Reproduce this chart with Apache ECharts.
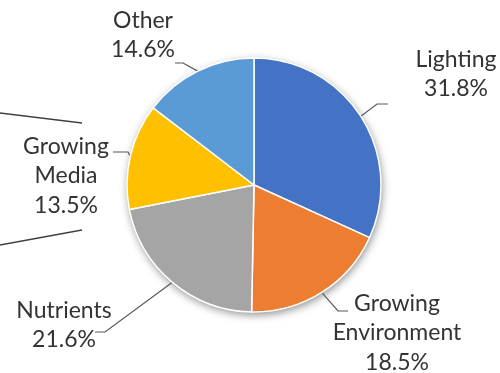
<!DOCTYPE html>
<html>
<head>
<meta charset="utf-8">
<script src="https://cdn.jsdelivr.net/npm/echarts@6/dist/echarts.min.js"></script>
<style>
  html, body { margin: 0; padding: 0; background: #ffffff; }
  #chart { width: 500px; height: 373px; }
</style>
</head>
<body>
<div id="chart"></div>
<script>
// Cost share by category (percent)
const categories = ['Lighting', 'Growing Environment', 'Nutrients', 'Growing Media', 'Other'];
const shares = [31.8, 18.5, 21.6, 13.5, 14.6];
const labelNames = ['Lighting', 'Growing\nEnvironment', 'Nutrients', 'Growing\nMedia', 'Other'];
const colors = ['#4472C4', '#ED7D31', '#A5A5A5', '#FFC000', '#5B9BD5'];

const PIE_CENTER = [254, 185];
const PIE_RADIUS = 127;

// Where each label block sits, plus the bend and end of its leader line
const labelSpots = [
  { x: 456, y: 74,  bend: [377, 104], end: [388, 104] },
  { x: 397, y: 333, bend: [338, 311], end: [348, 311] },
  { x: 64,  y: 325, bend: [105, 332], end: [95, 332] },
  { x: 66,  y: 176, bend: [128, 152], end: [113, 152] },
  { x: 143, y: 35,  bend: [183, 63],  end: [175, 63] }
];

const chart = echarts.init(document.getElementById('chart'), null, { renderer: 'canvas' });

const pieData = categories.map((name, i) => ({
  name: name,
  value: shares[i],
  itemStyle: { color: colors[i] }
}));

// Edge point of a slice at its mid angle (fallback if the layout gives no line points)
function edgePoint(idx) {
  const total = shares.reduce((a, b) => a + b, 0);
  let before = 0;
  for (let i = 0; i < idx; i++) before += shares[i];
  const frac = (before + shares[idx] / 2) / total;
  const ang = frac * Math.PI * 2;
  return [PIE_CENTER[0] + PIE_RADIUS * Math.sin(ang), PIE_CENTER[1] - PIE_RADIUS * Math.cos(ang)];
}

chart.setOption({
  animation: false,
  backgroundColor: '#ffffff',
  graphic: [
    { type: 'line', shape: { x1: 0, y1: 113, x2: 82, y2: 123 }, style: { stroke: '#404040', lineWidth: 1.3 }, silent: true },
    { type: 'line', shape: { x1: 0, y1: 245, x2: 82, y2: 230 }, style: { stroke: '#404040', lineWidth: 1.3 }, silent: true }
  ],
  series: [
    {
      // soft drop shadow under the whole pie
      type: 'pie',
      silent: true,
      center: PIE_CENTER,
      radius: PIE_RADIUS,
      z: 1,
      label: { show: false },
      labelLine: { show: false },
      itemStyle: {
        color: '#ffffff',
        shadowBlur: 8,
        shadowColor: 'rgba(0,0,0,0.45)',
        shadowOffsetX: 1,
        shadowOffsetY: 3
      },
      data: [{ value: 1, name: '' }]
    },
    {
      type: 'pie',
      z: 2,
      center: PIE_CENTER,
      radius: PIE_RADIUS,
      startAngle: 90,
      clockwise: true,
      avoidLabelOverlap: false,
      itemStyle: { borderColor: '#ffffff', borderWidth: 1.5 },
      label: {
        show: true,
        position: 'outside',
        fontFamily: 'Lato',
        fontSize: 23,
        lineHeight: 29.5,
        color: '#333333',
        formatter: p => labelNames[p.dataIndex] + '\n' + p.value.toFixed(1) + '%'
      },
      labelLine: {
        show: true,
        length: 15,
        length2: 10,
        lineStyle: { color: '#595959', width: 1.2 }
      },
      labelLayout: function (params) {
        const s = labelSpots[params.dataIndex];
        const start = (params.labelLinePoints && params.labelLinePoints[0]) || edgePoint(params.dataIndex);
        return {
          x: s.x,
          y: s.y,
          align: 'center',
          verticalAlign: 'middle',
          labelLinePoints: [start, s.bend, s.end]
        };
      },
      emphasis: { disabled: true },
      data: pieData
    }
  ]
});
</script>
</body>
</html>
